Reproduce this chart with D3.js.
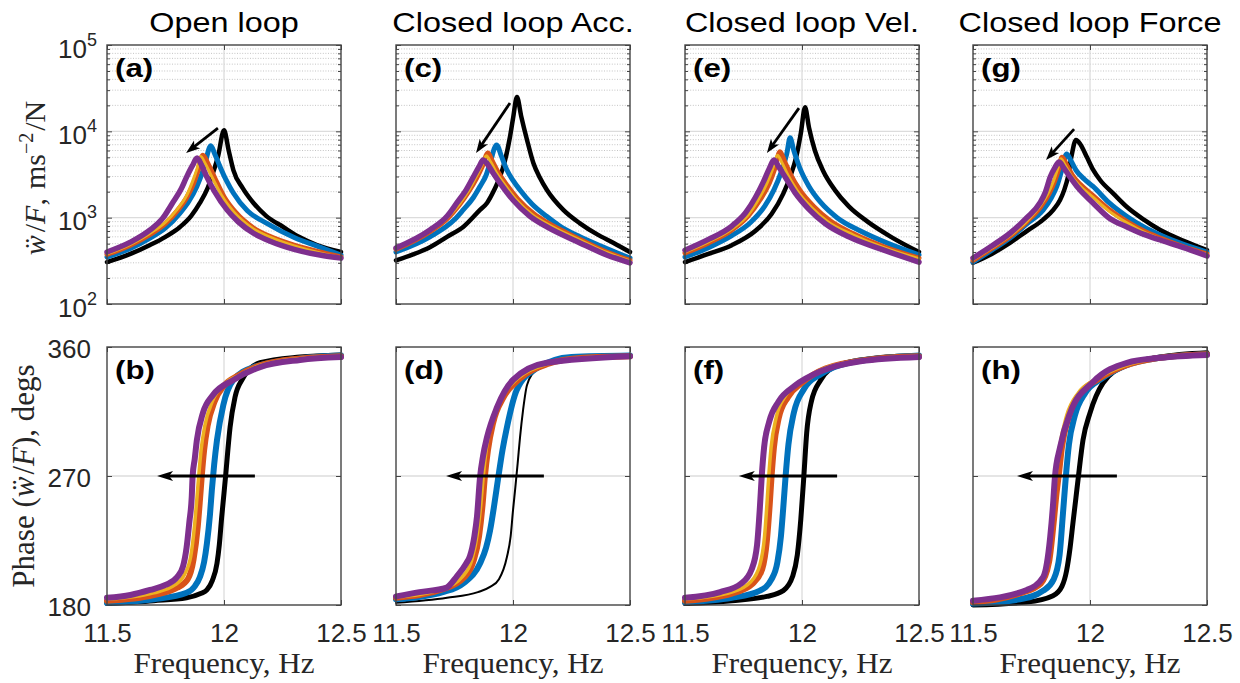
<!DOCTYPE html>
<html><head><meta charset="utf-8">
<script src="https://cdn.jsdelivr.net/npm/d3@7"></script>
<style>body{margin:0;background:#fff}</style>
</head><body>
<svg id="c" width="1240" height="683"></svg>
<script>
// ---------------- DATA ----------------
const frequencyTicks = [11.5, 12, 12.5];
const magnitudeTicks = [1e2, 1e3, 1e4, 1e5];
const phaseTicks = [180, 270, 360];
const panelTitles = ["Open loop", "Closed loop Acc.", "Closed loop Vel.", "Closed loop Force"];
const magPanelTags = ["(a)", "(c)", "(e)", "(g)"];
const phasePanelTags = ["(b)", "(d)", "(f)", "(h)"];
const seriesNames = ["black", "blue", "orange", "yellow", "purple"];
const seriesColors = ["#000000", "#0072BD", "#D95319", "#EDB120", "#7E2F8E"];

// magnitude |a/F| : [frequency Hz, value] per series (black, blue, orange, yellow, purple)
const magOpen = [
  [[11.5,306],[11.6,380],[11.684,482],[11.75,600],[11.812,780],[11.86,1050],[11.897,1480],[11.93,2200],[11.953,3300],[11.975,5200],[12.0,10300],[12.02,6000],[12.04,3560],[12.08,2200],[12.126,1480],[12.18,1050],[12.253,780],[12.32,600],[12.397,482],[12.5,400]],
  [[11.5,350],[11.6,440],[11.684,580],[11.75,760],[11.812,1130],[11.85,1550],[11.884,2300],[11.905,3200],[11.919,4300],[11.944,6800],[11.96,5500],[11.983,3900],[12.01,2700],[12.04,1930],[12.1,1200],[12.183,860],[12.3,590],[12.41,455],[12.5,369]],
  [[11.5,375],[11.6,480],[11.684,640],[11.75,860],[11.8,1200],[11.84,1700],[11.87,2500],[11.89,3600],[11.91,5300],[11.93,4300],[11.96,2900],[12.0,1750],[12.05,1150],[12.126,760],[12.2,600],[12.3,480],[12.41,400],[12.5,350]],
  [[11.5,380],[11.6,490],[11.684,660],[11.75,890],[11.8,1250],[11.84,1800],[11.865,2600],[11.885,3700],[11.9,5100],[11.92,4200],[11.95,2900],[11.99,1800],[12.04,1180],[12.126,740],[12.2,590],[12.3,470],[12.41,390],[12.5,345]],
  [[11.5,400],[11.6,520],[11.684,720],[11.74,1000],[11.78,1480],[11.815,2100],[11.84,2950],[11.865,4000],[11.885,4900],[11.905,4000],[11.927,2950],[11.96,2000],[12.013,1230],[12.06,900],[12.126,660],[12.2,530],[12.3,430],[12.41,369],[12.5,340]]
];
const magAcc = [
  [[11.5,320],[11.573,375],[11.645,455],[11.718,600],[11.787,780],[11.859,1230],[11.889,1480],[11.92,2100],[11.944,2950],[11.965,4500],[11.987,8600],[12.0,14000],[12.017,25000],[12.035,15000],[12.06,7940],[12.087,4300],[12.115,2900],[12.145,2090],[12.215,1230],[12.286,860],[12.36,640],[12.43,510],[12.5,400]],
  [[11.5,400],[11.645,600],[11.75,950],[11.787,1230],[11.83,1700],[11.859,2300],[11.885,3100],[11.902,4300],[11.93,6950],[11.95,5200],[11.974,3560],[12.0,2700],[12.03,2090],[12.08,1450],[12.145,1030],[12.2,800],[12.286,600],[12.4,440],[12.5,340]],
  [[11.5,430],[11.645,690],[11.72,980],[11.77,1400],[11.81,2000],[11.845,2900],[11.87,4000],[11.893,5600],[11.91,4600],[11.935,3400],[11.97,2450],[12.02,1650],[12.09,1100],[12.145,880],[12.286,560],[12.4,400],[12.5,320]],
  [[11.5,435],[11.645,700],[11.72,1000],[11.77,1430],[11.81,2050],[11.84,2900],[11.865,3900],[11.886,5200],[11.905,4400],[11.93,3300],[11.965,2400],[12.015,1600],[12.085,1070],[12.145,850],[12.286,550],[12.4,395],[12.5,315]],
  [[11.5,445],[11.645,720],[11.72,1050],[11.76,1480],[11.8,2100],[11.83,2950],[11.855,3900],[11.872,4650],[11.89,4200],[11.915,3300],[11.95,2400],[12.0,1600],[12.07,1050],[12.145,780],[12.286,510],[12.4,370],[12.5,300]]
];
const magVel = [
  [[11.5,306],[11.6,380],[11.7,480],[11.8,700],[11.87,1100],[11.92,1900],[11.95,3000],[11.975,5000],[11.995,9500],[12.013,19000],[12.03,11000],[12.055,6000],[12.09,3500],[12.14,2100],[12.2,1350],[12.28,900],[12.38,600],[12.5,400]],
  [[11.5,350],[11.6,450],[11.7,620],[11.78,880],[11.84,1350],[11.88,2100],[11.91,3300],[11.935,5500],[11.949,8400],[11.965,6000],[11.99,3800],[12.03,2300],[12.08,1500],[12.15,1000],[12.25,700],[12.37,500],[12.5,370]],
  [[11.5,390],[11.6,510],[11.7,720],[11.77,1050],[11.82,1600],[11.86,2500],[11.885,3800],[11.906,5800],[11.925,4500],[11.95,3200],[11.99,2100],[12.05,1350],[12.12,920],[12.22,650],[12.35,460],[12.5,340]],
  [[11.5,400],[11.6,525],[11.7,740],[11.77,1080],[11.815,1650],[11.85,2500],[11.875,3700],[11.895,5300],[11.915,4300],[11.94,3100],[11.98,2050],[12.04,1320],[12.11,900],[12.22,630],[12.35,450],[12.5,335]],
  [[11.5,420],[11.6,560],[11.7,800],[11.76,1150],[11.8,1700],[11.835,2600],[11.86,3700],[11.88,4650],[11.9,3900],[11.93,2900],[11.97,1950],[12.03,1250],[12.1,850],[12.2,600],[12.35,420],[12.5,306]]
];
const magForce = [
  [[11.5,300],[11.58,380],[11.658,510],[11.73,700],[11.8,950],[11.845,1250],[11.872,1600],[11.89,2100],[11.905,2900],[11.92,5000],[11.94,7940],[11.96,7000],[11.987,5000],[12.013,3600],[12.043,2730],[12.1,1900],[12.158,1330],[12.23,950],[12.3,720],[12.4,540],[12.5,420]],
  [[11.5,306],[11.58,420],[11.658,580],[11.73,850],[11.8,1230],[11.835,1700],[11.858,2300],[11.88,3600],[11.9,5460],[11.92,4500],[11.94,3560],[11.975,2800],[12.013,2300],[12.08,1500],[12.158,1030],[12.23,780],[12.3,630],[12.4,490],[12.5,400]],
  [[11.5,320],[11.58,440],[11.658,610],[11.73,900],[11.79,1350],[11.825,1900],[11.85,2700],[11.868,3800],[11.88,5000],[11.9,4100],[11.925,3100],[11.96,2400],[12.013,1800],[12.08,1250],[12.158,900],[12.23,700],[12.3,580],[12.4,460],[12.5,380]],
  [[11.5,325],[11.58,445],[11.658,620],[11.73,910],[11.785,1350],[11.82,1900],[11.845,2700],[11.862,3700],[11.875,4800],[11.895,4000],[11.92,3050],[11.955,2350],[12.01,1750],[12.08,1200],[12.158,870],[12.23,680],[12.3,565],[12.4,450],[12.5,375]],
  [[11.5,341],[11.58,470],[11.658,660],[11.73,1000],[11.786,1480],[11.81,2000],[11.83,2950],[11.85,3800],[11.868,4420],[11.89,3700],[11.915,2950],[11.95,2200],[12.013,1480],[12.08,1000],[12.158,780],[12.23,640],[12.3,551],[12.4,450],[12.5,360]]
];

// phase of a/F in degrees : [frequency Hz, degrees]
const phaseOpen = [
  [[11.5,181],[11.7,183],[11.84,185],[11.9,188],[11.927,190.5],[11.95,197],[11.97,209],[11.98,222],[11.99,241],[12.0,258],[12.008,272],[12.017,289],[12.026,304],[12.047,325],[12.08,338],[12.154,349],[12.325,353],[12.5,354.5]],
  [[11.5,181.5],[11.7,184],[11.84,188.5],[11.875,193],[11.897,199.5],[11.915,210],[11.927,223],[11.94,243],[11.948,260],[11.958,278],[11.97,295],[11.997,319.5],[12.04,337],[12.126,346],[12.325,352],[12.5,354]],
  [[11.5,183],[11.7,187],[11.8,192],[11.845,198],[11.87,212],[11.888,235],[11.898,255],[11.905,270],[11.915,288],[11.93,305],[11.96,322],[12.0,333],[12.06,340],[12.15,347],[12.33,352],[12.5,353.5]],
  [[11.5,184],[11.7,188.5],[11.79,194],[11.83,201],[11.858,214],[11.875,237],[11.885,256],[11.892,270],[11.902,288],[11.918,305],[11.95,322],[12.0,334],[12.06,340],[12.15,347],[12.33,352],[12.5,353.5]],
  [[11.5,185],[11.6,187],[11.684,190.5],[11.75,194],[11.8,199.5],[11.825,207],[11.84,220],[11.852,238],[11.862,255],[11.866,270],[11.875,282],[11.884,295],[11.91,314],[11.953,326.5],[12.04,337],[12.154,346],[12.325,351],[12.5,353]]
];
const phaseAcc = [
  [[11.5,181.5],[11.718,185],[11.85,189],[11.902,192.6],[11.94,198],[11.974,213.5],[11.99,228],[12.0,246],[12.01,262],[12.02,279],[12.03,297],[12.043,316],[12.06,333.5],[12.1,344],[12.215,352],[12.5,355]],
  [[11.5,184],[11.7,189],[11.787,195],[11.859,209],[11.885,220],[11.902,232],[11.92,250],[11.937,269],[11.955,288],[11.974,304],[12.016,330],[12.1,345],[12.25,353],[12.5,354]],
  [[11.5,185],[11.7,191],[11.79,199],[11.83,210],[11.855,228],[11.87,250],[11.88,270],[11.893,288],[11.915,307],[11.96,325],[12.03,338],[12.145,348],[12.3,352.5],[12.5,353.5]],
  [[11.5,185.5],[11.7,191.5],[11.785,200],[11.825,212],[11.848,230],[11.863,251],[11.873,270],[11.886,289],[11.91,309],[11.955,326],[12.02,338],[12.145,348],[12.3,352.5],[12.5,353.5]],
  [[11.5,186],[11.6,189],[11.714,192],[11.76,200],[11.8,209],[11.816,214],[11.835,228],[11.846,241.5],[11.859,269],[11.872,284],[11.889,297],[11.932,318],[12.0,337],[12.145,349],[12.5,353.5]]
];
const phaseVel = [
  [[11.5,181],[11.7,183],[11.85,186],[11.92,190],[11.96,200],[11.98,215],[11.995,240],[12.008,270],[12.02,300],[12.04,322],[12.08,337],[12.15,347],[12.3,352],[12.5,354]],
  [[11.5,182],[11.7,185],[11.82,190],[11.87,198],[11.895,210],[11.91,228],[11.92,248],[11.93,270],[11.942,292],[11.965,314],[12.01,331],[12.08,341],[12.2,349],[12.5,354]],
  [[11.5,183],[11.7,188],[11.79,195],[11.83,205],[11.85,225],[11.862,250],[11.87,270],[11.88,290],[11.9,310],[11.94,325],[12.0,335],[12.1,345],[12.3,351.5],[12.5,353.5]],
  [[11.5,184],[11.7,189],[11.78,196],[11.82,208],[11.84,228],[11.85,250],[11.858,270],[11.868,290],[11.89,311],[11.93,326],[12.0,336],[12.1,345.5],[12.3,351.5],[12.5,353.5]],
  [[11.5,185],[11.65,189],[11.74,195],[11.785,205],[11.808,222],[11.82,248],[11.828,270],[11.838,290],[11.86,308],[11.9,322],[11.97,333],[12.08,343],[12.25,350],[12.5,353]]
];
const phaseForce = [
  [[11.5,180],[11.73,182],[11.842,186.5],[11.88,193],[11.9,204],[11.915,220],[11.927,237],[11.94,255],[11.95,269],[11.97,295],[12.0,314],[12.056,335],[12.158,347.5],[12.3,353],[12.5,356]],
  [[11.5,181],[11.7,184],[11.8,190],[11.845,198],[11.87,215],[11.885,245],[11.897,270],[11.91,292],[11.935,312],[11.98,328],[12.05,338],[12.15,347],[12.3,352.5],[12.5,355]],
  [[11.5,182],[11.7,188],[11.79,195],[11.825,210],[11.845,238],[11.857,258],[11.866,270],[11.88,290],[11.91,312],[11.96,328],[12.03,337],[12.15,347],[12.3,352.5],[12.5,355]],
  [[11.5,182.5],[11.7,189],[11.79,197],[11.82,212],[11.838,238],[11.848,258],[11.855,270],[11.87,290],[11.9,312],[11.95,328],[12.02,337],[12.15,347],[12.3,352.5],[12.5,355]],
  [[11.5,183],[11.73,190.5],[11.8,199.5],[11.83,227.5],[11.842,250],[11.85,269],[11.872,290],[11.915,314],[12.013,335.6],[12.158,349],[12.3,352.5],[12.5,354.5]]
];

// annotation arrows in data units: [from, to]
const magArrows = [
  [[11.974,10900],[11.838,5600]],
  [[11.987,21300],[11.842,5600]],
  [[11.987,18600],[11.85,5600]],
  [[11.932,10600],[11.812,4650]]
];
const phaseArrows = [
  [[12.132,270],[11.714,270]],
  [[12.132,270],[11.714,270]],
  [[12.15,270],[11.73,270]],
  [[12.115,270],[11.688,270]]
];

// ---------------- LAYOUT / STYLE ----------------
const svg = d3.select("#c");
const lefts = [107, 396, 685, 973], PW = 234;
const magTop = 45, magBottom = 304, phTop = 347, phBottom = 605;
const magSets = [magOpen, magAcc, magVel, magForce];
const phaseSets = [phaseOpen, phaseAcc, phaseVel, phaseForce];
const magWidths = [4.5, 5, 5, 3, 5.5];
const phaseWidths = [[5,6,6,3.5,6],[2,6,6,3.5,6],[5,6,6,3.5,6],[5,6,6,3.5,6]];
const SANS = "'Liberation Sans', Arial, Helvetica, sans-serif";
const SERIF = "'Liberation Serif', 'DejaVu Serif', serif";
const axisColor = "#444";

function styleAxis(g) {
  g.select(".domain").remove();
  g.selectAll(".tick line").attr("stroke", axisColor).attr("stroke-width", 1);
  g.attr("font-family", SANS).attr("font-size", 26);
  g.selectAll(".tick text").attr("fill", "#262626");
}

function drawArrow(g, x1, y1, x2, y2, w, hl, hw) {
  const dx = x2 - x1, dy = y2 - y1, L = Math.hypot(dx, dy);
  const ux = dx / L, uy = dy / L, nx = -uy, ny = ux;
  const bx = x2 - ux * hl, by = y2 - uy * hl;
  g.append("line").attr("x1", x1).attr("y1", y1)
    .attr("x2", x2 - ux * hl * 0.6).attr("y2", y2 - uy * hl * 0.6)
    .attr("stroke", "#000").attr("stroke-width", w);
  const nb = [x2 - ux * hl * 0.75, y2 - uy * hl * 0.75];
  g.append("path").attr("d",
    `M${x2},${y2}L${bx + nx*hw},${by + ny*hw}L${nb[0]},${nb[1]}L${bx - nx*hw},${by - ny*hw}Z`)
    .attr("fill", "#000");
}

function tag(g, x, y, txt) {
  g.append("text").attr("transform", `translate(${x},${y}) scale(1.2,1)`)
    .attr("font-family", SANS).attr("font-weight", "bold").attr("font-size", 26)
    .attr("fill", "#000").text(txt);
}

for (let i = 0; i < 4; i++) {
  const L = lefts[i];
  const x = d3.scaleLinear().domain([11.5, 12.5]).range([L, L + PW]);
  const ym = d3.scaleLog().domain([1e2, 1e5]).range([magBottom, magTop]);
  const yp = d3.scaleLinear().domain([180, 360]).range([phBottom, phTop]);
  const minor = ym.ticks().filter(v => !magnitudeTicks.includes(v));

  // ---- magnitude panel ----
  const gm = svg.append("g");
  gm.selectAll(".mg").data(minor).join("line")
    .attr("x1", L).attr("x2", L + PW).attr("y1", d => ym(d)).attr("y2", d => ym(d))
    .attr("stroke", "#c4c4c4").attr("stroke-width", 1).attr("stroke-dasharray", "1,1.6");
  gm.selectAll(".Mg").data(magnitudeTicks.slice(1, 3)).join("line")
    .attr("x1", L).attr("x2", L + PW).attr("y1", d => ym(d)).attr("y2", d => ym(d))
    .attr("stroke", "#dcdcdc").attr("stroke-width", 1.3);
  gm.append("line").attr("x1", x(12)).attr("x2", x(12)).attr("y1", magTop).attr("y2", magBottom)
    .attr("stroke", "#dcdcdc").attr("stroke-width", 1.3);

  gm.append("g").attr("transform", `translate(0,${magBottom})`)
    .call(d3.axisBottom(x).tickValues(frequencyTicks).tickSize(-5).tickSizeOuter(0).tickFormat("")).call(styleAxis);
  gm.append("g").attr("transform", `translate(0,${magTop})`)
    .call(d3.axisTop(x).tickValues(frequencyTicks).tickSize(-5).tickSizeOuter(0).tickFormat("")).call(styleAxis);
  gm.append("g").attr("transform", `translate(${L},0)`)
    .call(d3.axisLeft(ym).tickValues(minor).tickSize(-3).tickSizeOuter(0).tickFormat("")).call(styleAxis);
  gm.append("g").attr("transform", `translate(${L + PW},0)`)
    .call(d3.axisRight(ym).tickValues(minor).tickSize(-3).tickSizeOuter(0).tickFormat("")).call(styleAxis);
  gm.append("g").attr("transform", `translate(${L + PW},0)`)
    .call(d3.axisRight(ym).tickValues(magnitudeTicks).tickSize(-5).tickSizeOuter(0).tickFormat("")).call(styleAxis);
  const gyl = gm.append("g").attr("transform", `translate(${L},0)`)
    .call(d3.axisLeft(ym).tickValues(magnitudeTicks).tickSize(-5).tickSizeOuter(0).tickFormat("")).call(styleAxis);
  if (i === 0) {
    gyl.selectAll(".tick").each(function (d) {
      const t = d3.select(this).append("text").attr("x", -10).attr("y", 12)
        .attr("text-anchor", "end").attr("fill", "#262626").attr("font-size", 26);
      t.append("tspan").text("10");
      t.append("tspan").attr("dy", -12).attr("font-size", 18).text(String(Math.round(Math.log10(d))));
    });
  }

  const lineM = d3.line().x(d => x(d[0])).y(d => ym(d[1])).curve(d3.curveMonotoneX);
  magSets[i].forEach((s, k) => {
    gm.append("path").attr("d", lineM(s)).attr("fill", "none")
      .attr("stroke", seriesColors[k]).attr("stroke-width", magWidths[k])
      .attr("stroke-linejoin", "round").attr("stroke-linecap", "round")
      .attr("class", "series-" + seriesNames[k]);
  });
  const ma = magArrows[i];
  drawArrow(gm, x(ma[0][0]), ym(ma[0][1]), x(ma[1][0]), ym(ma[1][1]), 2.8, 14, 5);

  gm.append("rect").attr("x", L).attr("y", magTop).attr("width", PW).attr("height", magBottom - magTop)
    .attr("fill", "none").attr("stroke", axisColor).attr("stroke-width", 1.4);
  tag(gm, L + 8, magTop + 32, magPanelTags[i]);

  gm.append("text").attr("transform", `translate(${L + PW / 2},32) scale(1.2,1)`)
    .attr("text-anchor", "middle").attr("font-family", SANS).attr("font-size", 27)
    .attr("fill", "#000").text(panelTitles[i]);

  // ---- phase panel ----
  const gp = svg.append("g");
  gp.append("line").attr("x1", L).attr("x2", L + PW).attr("y1", yp(270)).attr("y2", yp(270))
    .attr("stroke", "#dcdcdc").attr("stroke-width", 1.3);
  gp.append("line").attr("x1", x(12)).attr("x2", x(12)).attr("y1", phTop).attr("y2", phBottom)
    .attr("stroke", "#dcdcdc").attr("stroke-width", 1.3);
  gp.append("g").attr("transform", `translate(0,${phBottom})`)
    .call(d3.axisBottom(x).tickValues(frequencyTicks).tickSize(-5).tickSizeOuter(0)
      .tickPadding(19).tickFormat(d3.format(""))).call(styleAxis);
  gp.append("g").attr("transform", `translate(0,${phTop})`)
    .call(d3.axisTop(x).tickValues(frequencyTicks).tickSize(-5).tickSizeOuter(0).tickFormat("")).call(styleAxis);
  gp.append("g").attr("transform", `translate(${L + PW},0)`)
    .call(d3.axisRight(yp).tickValues(phaseTicks).tickSize(-5).tickSizeOuter(0).tickFormat("")).call(styleAxis);
  const gpl = gp.append("g").attr("transform", `translate(${L},0)`)
    .call(d3.axisLeft(yp).tickValues(phaseTicks).tickSize(-5).tickSizeOuter(0).tickPadding(16)
      .tickFormat(i === 0 ? d3.format("") : "")).call(styleAxis);
  gpl.selectAll(".tick text").attr("dy", "0.4em");

  const lineP = d3.line().x(d => x(d[0])).y(d => yp(d[1])).curve(d3.curveMonotoneX);
  phaseSets[i].forEach((s, k) => {
    gp.append("path").attr("d", lineP(s)).attr("fill", "none")
      .attr("stroke", seriesColors[k]).attr("stroke-width", phaseWidths[i][k])
      .attr("stroke-linejoin", "round").attr("stroke-linecap", "round")
      .attr("class", "series-" + seriesNames[k]);
  });
  const pa = phaseArrows[i];
  drawArrow(gp, x(pa[0][0]), yp(pa[0][1]), x(pa[1][0]), yp(pa[1][1]), 3.2, 16, 5);

  gp.append("rect").attr("x", L).attr("y", phTop).attr("width", PW).attr("height", phBottom - phTop)
    .attr("fill", "none").attr("stroke", axisColor).attr("stroke-width", 1.4);
  tag(gp, L + 8, phTop + 32, phasePanelTags[i]);

  gp.append("text").attr("x", L + PW / 2).attr("y", 673).attr("text-anchor", "middle")
    .attr("font-family", SERIF).attr("font-size", 29).attr("fill", "#262626")
    .attr("textLength", 181).attr("lengthAdjust", "spacingAndGlyphs")
    .text("Frequency, Hz");
}

// y labels
const yl1 = svg.append("text").attr("transform", "translate(45,178) rotate(-90)")
  .attr("text-anchor", "middle").attr("font-family", SERIF).attr("font-size", 30).attr("fill", "#262626");
yl1.append("tspan").attr("font-style", "italic").text("ẅ");
yl1.append("tspan").attr("dx", 3).text("/");
yl1.append("tspan").attr("font-style", "italic").text("F");
yl1.append("tspan").text(",");
yl1.append("tspan").attr("dx", 9).text("ms");
yl1.append("tspan").attr("dy", -12).attr("font-size", 20).text("−2");
yl1.append("tspan").attr("dy", 12).attr("dx", 2).text("/N");

const yl2 = svg.append("text").attr("transform", "translate(34,476) rotate(-90)")
  .attr("text-anchor", "middle").attr("font-family", SERIF).attr("font-size", 31).attr("fill", "#262626");
yl2.append("tspan").text("Phase (");
yl2.append("tspan").attr("font-style", "italic").text("ẅ");
yl2.append("tspan").attr("dx", 2).text("/");
yl2.append("tspan").attr("font-style", "italic").text("F");
yl2.append("tspan").text("), degs");
</script>
</body></html>
